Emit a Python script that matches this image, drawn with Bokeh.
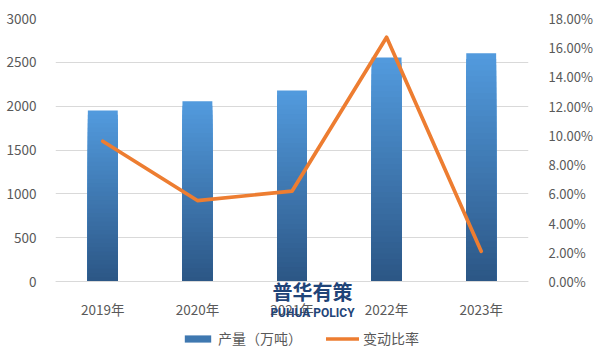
from bokeh.plotting import figure
from bokeh.models import (Range1d, LinearAxis, CategoricalAxis, FixedTicker, NumeralTickFormatter,
                          Legend, LegendItem, Label, ColumnDataSource)
from bokeh.embed import file_html
from bokeh.resources import INLINE

years = ["2019年", "2020年", "2021年", "2022年", "2023年"]
output = [1950, 2055, 2180, 2555, 2603]          # 产量（万吨）
change = [0.0960, 0.0554, 0.0618, 0.1672, 0.0207]  # 变动比率
left_ticks = [0, 500, 1000, 1500, 2000, 2500, 3000]
right_ticks = [0.0, 0.02, 0.04, 0.06, 0.08, 0.10, 0.12, 0.14, 0.16, 0.18]

FONT = "Noto Sans CJK SC"
TXT = "#595959"
GRID = "#d9d9d9"

# frame extends below zero so that the x labels, watermark and legend sit inside it
Y_MAX = 3000
Y_MIN = -Y_MAX * 72 / 263
P_MAX = 0.18
P_MIN = Y_MIN / Y_MAX * P_MAX

p = figure(x_range=years, y_range=Range1d(Y_MIN, Y_MAX), frame_width=473, frame_height=335,
           output_backend="svg", toolbar_location=None, x_axis_location=None,
           min_border_left=55, min_border_right=0, min_border_top=18, min_border_bottom=0)
p.outline_line_color = None
p.background_fill_color = "white"
p.border_fill_color = "white"

p.extra_y_ranges = {"pct": Range1d(P_MIN, P_MAX)}

# gradient bars: light top -> dark bottom, built as layered bars from the data
top_c = (0x52, 0x9a, 0xdd)
bot_c = (0x2c, 0x57, 0x86)
N = 40
layers = []
for k in range(N):
    t = k / (N - 1)
    c = tuple(int(round(top_c[i] + (bot_c[i] - top_c[i]) * t)) for i in range(3))
    col = "#%02x%02x%02x" % c
    frac = 1 - k / N
    src = ColumnDataSource(dict(x=years, top=[v * frac for v in output]))
    r = p.vbar(x="x", top="top", bottom=0, width=0.316, source=src, fill_color=col,
               line_color=None)
    layers.append(r)

line = p.line(x=years, y=change, y_range_name="pct", line_color="#ed7d31", line_width=3.7,
              line_join="round", line_cap="round")

# axes
p.yaxis.ticker = FixedTicker(ticks=left_ticks)
p.yaxis.axis_line_color = None
p.yaxis.major_tick_line_color = None
p.yaxis.minor_tick_line_color = None
p.yaxis.major_label_text_font = FONT
p.yaxis.major_label_text_font_size = "13.5px"
p.yaxis.major_label_text_color = TXT
p.yaxis.major_label_standoff = 13

ra = LinearAxis(y_range_name="pct", ticker=FixedTicker(ticks=right_ticks),
                formatter=NumeralTickFormatter(format="0.00%"))
ra.axis_line_color = None
ra.major_tick_line_color = None
ra.minor_tick_line_color = None
ra.major_label_text_font = FONT
ra.major_label_text_font_size = "13px"
ra.major_label_text_color = TXT
ra.major_label_standoff = 14
p.add_layout(ra, "right")

xa = CategoricalAxis(fixed_location=0)
xa.axis_line_color = GRID
xa.major_tick_line_color = None
xa.minor_tick_line_color = None
xa.major_label_text_font = FONT
xa.major_label_text_font_size = "13.5px"
xa.major_label_text_color = TXT
xa.major_label_standoff = 11
p.add_layout(xa, "below")

p.xgrid.grid_line_color = None
p.ygrid.ticker = FixedTicker(ticks=left_ticks)
p.ygrid.grid_line_color = GRID
p.ygrid.grid_line_width = 1

# watermark (screen units relative to the frame)
p.add_layout(Label(x=257, y=62, x_units="screen", y_units="screen", text="普华有策",
                   text_font=FONT, text_font_style="bold",
                   text_font_size="20px", text_color="#1f4478", text_align="center",
                   text_baseline="middle"))
p.add_layout(Label(x=257, y=41, x_units="screen", y_units="screen", text="PUHUA POLICY",
                   text_font="Roboto", text_font_style="bold",
                   text_font_size="12px", text_color="#1f4478", text_align="center",
                   text_baseline="middle"))

legend = Legend(items=[LegendItem(label="产量（万吨）", renderers=[layers[N // 2]]),
                       LegendItem(label="变动比率", renderers=[line])],
                orientation="horizontal", location=(126, 5), border_line_color=None,
                background_fill_alpha=0, label_text_font=FONT, label_text_font_size="14px",
                label_text_color=TXT, glyph_width=33, glyph_height=9, spacing=24,
                label_standoff=4, margin=0, padding=2)
p.add_layout(legend, "center")

open("out.html", "w").write(file_html(p, INLINE))
